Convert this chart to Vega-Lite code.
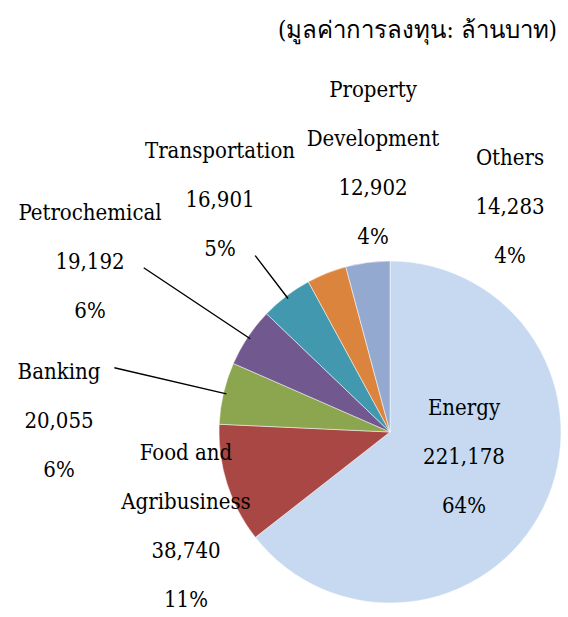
{
  "$schema": "https://vega.github.io/schema/vega-lite/v6.json",
  "width": 342,
  "height": 342,
  "autosize": {"type": "none"},
  "padding": {"left": 219, "top": 261, "right": 7, "bottom": 14},
  "background": "white",
  "title": {
    "text": "(มูลค่าการลงทุน: ล้านบาท)",
    "anchor": "end",
    "font": "DejaVu Serif Condensed, DejaVu Serif",
    "fontSize": 24,
    "fontWeight": "normal",
    "color": "black",
    "offset": 36,
    "dx": -5
  },
  "data": {
    "values": [
      {"category": "Energy", "value": 221178},
      {"category": "Food and Agribusiness", "value": 38740},
      {"category": "Banking", "value": 20055},
      {"category": "Petrochemical", "value": 19192},
      {"category": "Transportation", "value": 16901},
      {"category": "Property Development", "value": 12902},
      {"category": "Others", "value": 14283}
    ]
  },
  "transform": [
    {"window": [{"op": "row_number", "as": "idx"}]},
    {"window": [{"op": "sum", "field": "value", "as": "cum"}], "sort": [{"field": "idx"}], "frame": [null, 0]},
    {"joinaggregate": [{"op": "sum", "field": "value", "as": "total"}]},
    {"calculate": "datum.cum - datum.value / 2", "as": "mid"},
    {"calculate": "replace(replace(datum.category, 'Food and ', 'Food and\\n'), 'Property ', 'Property\\n') + '\\n' + format(datum.value, ',') + '\\n' + format(datum.value / datum.total, '.0%')", "as": "label"}
  ],
  "layer": [
    {
      "mark": {"type": "arc", "stroke": "white", "strokeWidth": 0.5},
      "encoding": {
        "theta": {"field": "value", "type": "quantitative", "stack": true},
        "order": {"field": "idx", "type": "quantitative"},
        "color": {
          "field": "category",
          "type": "nominal",
          "scale": {
            "domain": ["Energy", "Food and Agribusiness", "Banking", "Petrochemical", "Transportation", "Property Development", "Others"],
            "range": ["#C6D9F0", "#A94744", "#8BA64F", "#71588F", "#4198AF", "#DB843D", "#93A9CF"]
          },
          "legend": null
        }
      }
    },
    {
      "transform": [{"filter": {"field": "category", "oneOf": ["Banking", "Petrochemical", "Transportation"]}}],
      "mark": {
        "type": "arc",
        "fill": "transparent",
        "stroke": "black",
        "strokeWidth": 1.4,
        "radius2": 168,
        "radius": {"expr": "{'Banking': 283, 'Petrochemical': 296, 'Transportation': 222}[datum.category]"}
      },
      "encoding": {
        "theta": {"field": "mid", "type": "quantitative"},
        "theta2": {"field": "mid"}
      }
    },
    {
      "mark": {
        "type": "text",
        "radius": 0,
        "font": "DejaVu Serif Condensed, DejaVu Serif",
        "fontSize": 22,
        "color": "black",
        "lineBreak": "\n",
        "lineHeight": 49,
        "align": "center",
        "baseline": "middle",
        "dx": {"expr": "{'Energy': 74, 'Food and Agribusiness': -204, 'Banking': -331, 'Petrochemical': -300, 'Transportation': -170, 'Property Development': -17, 'Others': 120}[datum.category]"},
        "dy": {"expr": "{'Energy': -24, 'Food and Agribusiness': 21, 'Banking': -60, 'Petrochemical': -219, 'Transportation': -281, 'Property Development': -342, 'Others': -274}[datum.category]"}
      },
      "encoding": {
        "theta": {"field": "value", "type": "quantitative", "stack": true},
        "order": {"field": "idx", "type": "quantitative"},
        "text": {"field": "label", "type": "nominal"}
      }
    }
  ]
}
